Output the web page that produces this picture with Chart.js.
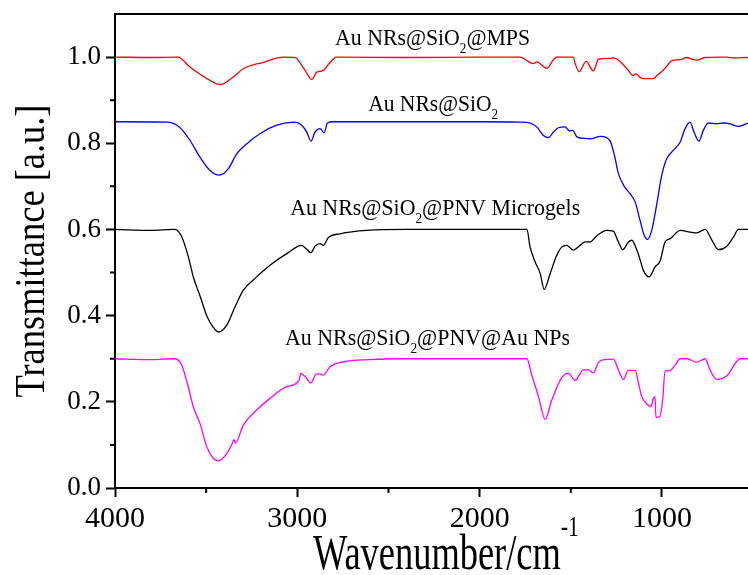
<!DOCTYPE html>
<html>
<head>
<meta charset="utf-8">
<title>FTIR spectra</title>
<script src="https://cdn.jsdelivr.net/npm/chart.js@4.4.0/dist/chart.umd.min.js"></script>
<style>
  html, body { margin: 0; padding: 0; background: #fff; }
  canvas { display: block; }
</style>
</head>
<body>
<canvas id="chart" width="748" height="575"></canvas>
<script>
// Spectra: [wavenumber (cm-1), transmittance (a.u.)]
const mpsSpectrum = [
  [4000, 1.0], [3800, 0.999], [3654, 1.0], [3589, 0.977], [3479, 0.946], [3424, 0.936],
  [3351, 0.954], [3296, 0.973], [3186, 0.988], [3077, 1.0], [3012, 0.999], [2976, 0.981],
  [2948, 0.963], [2921, 0.948], [2893, 0.965], [2857, 0.969], [2830, 0.983], [2784, 1.0],
  [2400, 0.999], [2000, 1.0], [1778, 1.0], [1723, 0.987], [1705, 0.985], [1687, 0.989],
  [1632, 0.974], [1595, 0.994], [1577, 1.0], [1486, 1.0], [1476, 0.985], [1454, 0.966],
  [1416, 0.99], [1376, 0.968], [1348, 0.995], [1284, 0.997], [1266, 0.998], [1230, 0.99],
  [1184, 0.969], [1160, 0.957], [1142, 0.961], [1120, 0.953], [1103, 0.95], [1048, 0.95],
  [1028, 0.957], [992, 0.97], [964, 0.984], [946, 0.992], [900, 0.994], [863, 0.999],
  [836, 0.995], [809, 0.993], [763, 0.999], [644, 1.0], [610, 0.998], [528, 0.999]
];
const sio2Spectrum = [
  [4000, 0.85], [3708, 0.849], [3643, 0.836], [3589, 0.807], [3534, 0.768], [3479, 0.737],
  [3427, 0.726], [3378, 0.741], [3332, 0.776], [3277, 0.799], [3205, 0.822], [3113, 0.842],
  [3013, 0.849], [2976, 0.842], [2948, 0.826], [2925, 0.805], [2903, 0.826], [2875, 0.834],
  [2853, 0.824], [2835, 0.847], [2804, 0.85], [2000, 0.85], [1778, 0.849], [1723, 0.847],
  [1687, 0.838], [1650, 0.818], [1623, 0.813], [1595, 0.826], [1568, 0.836], [1531, 0.838],
  [1508, 0.829], [1489, 0.830], [1467, 0.815], [1412, 0.811], [1385, 0.81], [1367, 0.813],
  [1339, 0.816], [1303, 0.813], [1284, 0.805], [1262, 0.775], [1239, 0.730], [1211, 0.703],
  [1175, 0.683], [1147, 0.664], [1120, 0.621], [1098, 0.587], [1080, 0.577], [1056, 0.598],
  [1028, 0.660], [1001, 0.726], [974, 0.764], [937, 0.784], [900, 0.803], [873, 0.834],
  [846, 0.849], [824, 0.826], [797, 0.805], [773, 0.83], [745, 0.847], [700, 0.845],
  [663, 0.847], [626, 0.845], [580, 0.839], [528, 0.847]
];
const microgelSpectrum = [
  [4000, 0.6], [3800, 0.598], [3671, 0.6], [3634, 0.583], [3598, 0.537], [3570, 0.489],
  [3534, 0.446], [3497, 0.400], [3461, 0.373], [3433, 0.362], [3387, 0.378], [3342, 0.420],
  [3296, 0.459], [3223, 0.490], [3150, 0.517], [3058, 0.544], [2976, 0.563], [2948, 0.554],
  [2925, 0.546], [2903, 0.561], [2875, 0.567], [2857, 0.563], [2830, 0.581], [2766, 0.590],
  [2619, 0.598], [2400, 0.6], [1741, 0.6], [1723, 0.559], [1696, 0.525], [1668, 0.498],
  [1646, 0.461], [1613, 0.498], [1577, 0.540], [1550, 0.559], [1522, 0.563], [1486, 0.552],
  [1449, 0.563], [1422, 0.571], [1394, 0.571], [1358, 0.585], [1303, 0.598], [1267, 0.596],
  [1239, 0.571], [1215, 0.553], [1184, 0.571], [1165, 0.575], [1140, 0.555], [1120, 0.530],
  [1102, 0.505], [1069, 0.490], [1038, 0.513], [1010, 0.527], [983, 0.571], [956, 0.578],
  [900, 0.598], [846, 0.594], [809, 0.592], [763, 0.6], [727, 0.576], [690, 0.553],
  [644, 0.561], [608, 0.582], [580, 0.6], [528, 0.6]
];
const auNpSpectrum = [
  [4000, 0.3], [3800, 0.298], [3671, 0.3], [3634, 0.285], [3598, 0.235], [3570, 0.188],
  [3534, 0.150], [3497, 0.096], [3461, 0.069], [3433, 0.063], [3387, 0.080], [3355, 0.105],
  [3347, 0.112], [3340, 0.104], [3296, 0.146], [3223, 0.181], [3150, 0.208], [3058, 0.235],
  [2989, 0.251], [2982, 0.266], [2958, 0.259], [2925, 0.244], [2897, 0.264], [2875, 0.265],
  [2857, 0.262], [2821, 0.281], [2747, 0.293], [2601, 0.298], [2400, 0.3], [1741, 0.3],
  [1714, 0.262], [1677, 0.212], [1641, 0.159], [1604, 0.204], [1550, 0.256], [1513, 0.266],
  [1476, 0.250], [1431, 0.274], [1403, 0.274], [1376, 0.267], [1349, 0.291], [1312, 0.298],
  [1266, 0.299], [1239, 0.274], [1211, 0.252], [1184, 0.273], [1147, 0.273], [1129, 0.244],
  [1111, 0.212], [1083, 0.195], [1060, 0.189], [1047, 0.208], [1038, 0.212], [1033, 0.164],
  [1014, 0.165], [996, 0.204], [983, 0.272], [959, 0.272], [928, 0.285], [900, 0.3],
  [863, 0.3], [809, 0.292], [763, 0.3], [736, 0.274], [700, 0.252], [635, 0.264],
  [608, 0.283], [571, 0.3], [528, 0.3]
];

// Series names, split so the "2" can be drawn as a subscript
const seriesNames = [
  [['Au NRs@SiO', ''], ['2', 'sub'], ['@MPS', '']],
  [['Au NRs@SiO', ''], ['2', 'sub']],
  [['Au NRs@SiO', ''], ['2', 'sub'], ['@PNV Microgels', '']],
  [['Au NRs@SiO', ''], ['2', 'sub'], ['@PNV@Au NPs', '']]
];
const seriesColors = ['#ff0000', '#0000ff', '#000000', '#ff00ff'];

const xTicks = [4000, 3000, 2000, 1000];
const xMinorTicks = [3500, 2500, 1500];
const yTicks = [0.0, 0.2, 0.4, 0.6, 0.8, 1.0];
const yMinorTicks = [0.1, 0.3, 0.5, 0.7, 0.9];

const FONT = "'Liberation Serif', 'Times New Roman', serif";

// where each series name sits (data coords of centre/baseline) and how wide it is
const namePlacement = [
  { x: 2258, y: 1.027, width: 195 },
  { x: 2255, y: 0.875, width: 130 },
  { x: 2244, y: 0.633, width: 290 },
  { x: 2286, y: 0.332, width: 285 }
];

function plainText(parts) {
  return parts.map(p => p[0]).join('');
}

// draw text with sub/superscripts, squeezed to a given width
function drawRich(ctx, parts, cx, baseline, size, targetWidth) {
  const mainFont = size + 'px ' + FONT;
  const smallFont = Math.round(size * 0.6) + 'px ' + FONT;
  let total = 0;
  parts.forEach(([t, kind]) => {
    ctx.font = kind ? smallFont : mainFont;
    total += ctx.measureText(t).width;
  });
  const sx = targetWidth ? targetWidth / total : 1;
  ctx.save();
  ctx.translate(cx - total * sx / 2, baseline);
  ctx.scale(sx, 1);
  ctx.textAlign = 'left';
  ctx.textBaseline = 'alphabetic';
  let x = 0;
  parts.forEach(([t, kind]) => {
    ctx.font = kind ? smallFont : mainFont;
    let dy = 0;
    if (kind === 'sub') dy = size * 0.33;
    if (kind === 'sup') dy = -size * 0.66;
    ctx.fillText(t, x, dy);
    x += ctx.measureText(t).width;
  });
  ctx.restore();
}

const framePlugin = {
  id: 'frame',
  afterDraw(chart) {
    const { ctx, chartArea, scales } = chart;
    ctx.save();
    ctx.strokeStyle = '#000';
    ctx.fillStyle = '#000';
    ctx.lineWidth = 2;

    // top border of the plot box
    ctx.beginPath();
    ctx.moveTo(chartArea.left - 1, chartArea.top);
    ctx.lineTo(chartArea.right, chartArea.top);
    ctx.stroke();

    // minor ticks
    ctx.beginPath();
    xMinorTicks.forEach(v => {
      const px = scales.x.getPixelForValue(v);
      ctx.moveTo(px, chartArea.bottom);
      ctx.lineTo(px, chartArea.bottom + 5);
    });
    yMinorTicks.forEach(v => {
      const py = scales.y.getPixelForValue(v);
      ctx.moveTo(chartArea.left, py);
      ctx.lineTo(chartArea.left - 5, py);
    });
    ctx.stroke();

    // series names
    seriesNames.forEach((parts, i) => {
      const p = namePlacement[i];
      drawRich(ctx, parts, scales.x.getPixelForValue(p.x), scales.y.getPixelForValue(p.y), 23, p.width);
    });

    // axis titles
    drawRich(ctx, [['Wavenumber/cm', ''], ['-1', 'sup']], 446, 569, 50, 266);
    ctx.save();
    ctx.translate(44, (chartArea.top + chartArea.bottom) / 2);
    ctx.rotate(-Math.PI / 2);
    drawRich(ctx, [['Transmittance [a.u.]', '']], 0, 0, 42, 293);
    ctx.restore();

    ctx.restore();
  }
};

const spectra = [mpsSpectrum, sio2Spectrum, microgelSpectrum, auNpSpectrum];

new Chart(document.getElementById('chart'), {
  type: 'scatter',
  data: {
    datasets: spectra.map((s, i) => ({
      label: plainText(seriesNames[i]),
      data: s.map(([x, y]) => ({ x, y })),
      showLine: true,
      borderColor: seriesColors[i],
      borderWidth: 1.3,
      pointRadius: 0,
      cubicInterpolationMode: 'monotone'
    }))
  },
  options: {
    responsive: false,
    animation: false,
    devicePixelRatio: 1,
    layout: { padding: { top: 14, right: 0, left: 0, bottom: 0 } },
    plugins: {
      legend: { display: false },
      tooltip: { enabled: false }
    },
    scales: {
      x: {
        type: 'linear',
        reverse: true,
        min: 528,
        max: 4000,
        afterBuildTicks: s => { s.ticks = xTicks.map(v => ({ value: v })); },
        afterFit: s => { s.height = 87; s.paddingLeft = 0; s.paddingRight = 0; },
        grid: { drawOnChartArea: false, drawTicks: true, tickLength: 9, tickWidth: 2, tickColor: '#000' },
        border: { display: true, color: '#000', width: 2 },
        ticks: {
          color: '#000',
          padding: 4,
          maxRotation: 0,
          font: { family: FONT, size: 30 },
          callback: v => String(v)
        }
      },
      y: {
        min: 0,
        max: 1.1,
        afterBuildTicks: s => { s.ticks = yTicks.map(v => ({ value: v })); },
        afterFit: s => { s.width = 115; s.paddingTop = 0; s.paddingBottom = 0; },
        grid: { drawOnChartArea: false, drawTicks: true, tickLength: 9, tickWidth: 2, tickColor: '#000' },
        border: { display: true, color: '#000', width: 2 },
        ticks: {
          color: '#000',
          padding: 5,
          font: { family: FONT, size: 27 },
          callback: v => v.toFixed(1)
        }
      }
    }
  },
  plugins: [framePlugin]
});
</script>
</body>
</html>
